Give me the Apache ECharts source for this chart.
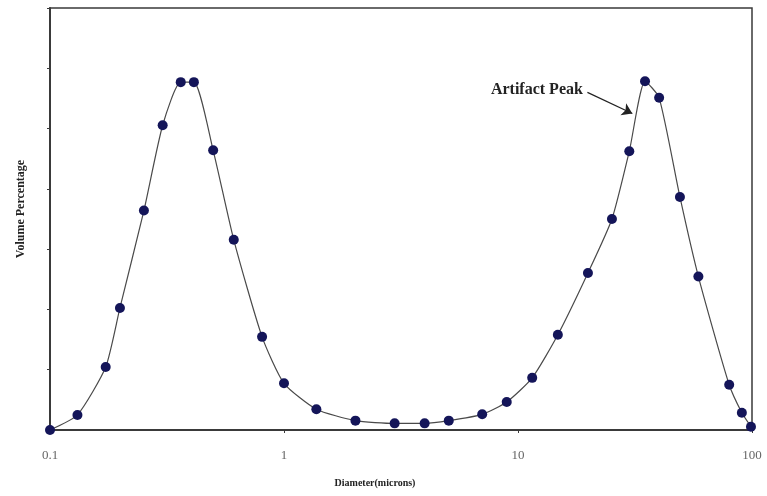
<!DOCTYPE html>
<html>
<head>
<meta charset="utf-8">
<title>Volume Percentage vs Diameter</title>
<script src="https://cdn.jsdelivr.net/npm/echarts@6/dist/echarts.min.js"></script>
<style>
  html, body { margin: 0; padding: 0; background: #fff; }
  #chart { width: 767px; height: 496px; }
</style>
</head>
<body>
<div id="chart"></div>
<script>
// Particle diameter (microns) for each measurement
var diameters = [0.1, 0.131, 0.173, 0.199, 0.252, 0.303, 0.362, 0.412, 0.498, 0.61, 0.806,
  1.0, 1.375, 2.02, 2.97, 3.99, 5.06, 7.03, 8.95, 11.5, 14.8, 19.9, 25.2, 29.9, 34.9,
  40.1, 49.2, 59.0, 79.9, 90.5, 99.0];
// Volume percentage at each diameter
var volumes = [0, 0.5, 2.09, 4.05, 7.28, 10.11, 11.54, 11.54, 9.28, 6.31, 3.09,
  1.55, 0.69, 0.31, 0.22, 0.22, 0.31, 0.52, 0.93, 1.73, 3.16, 5.21, 7.0, 9.25, 11.57,
  11.02, 7.73, 5.09, 1.5, 0.57, 0.11];
// Axis tick values
var xTicks = [0.1, 1, 10, 100];
var yTicks = [0, 2, 4, 6, 8, 10, 12, 14];
// Annotation pointing at the second peak: [start, end] in data units
var peakNote = 'Artifact Peak';
var peakArrow = [[19.8, 11.2], [30.8, 10.5]];

var points = diameters.map(function (d, i) { return [d, volumes[i]]; });
var serif = '"Liberation Serif", "DejaVu Serif", serif';

var chart = echarts.init(document.getElementById('chart'));
chart.setOption({
  animation: false,
  backgroundColor: '#ffffff',
  grid: {
    left: 50, right: 15, top: 8, bottom: 66,
    outerBoundsMode: 'none',
    containLabel: false,
    show: true, borderColor: '#3a3a3a', borderWidth: 1.5, backgroundColor: 'transparent'
  },
  xAxis: {
    type: 'log',
    logBase: 10,
    min: xTicks[0],
    max: xTicks[xTicks.length - 1],
    name: 'Diameter(microns)',
    nameLocation: 'middle',
    nameGap: 48,
    nameTextStyle: { fontFamily: serif, fontWeight: 'bold', fontSize: 10, color: '#222', padding: [0, 52, 0, 0] },
    axisLine: { show: true, lineStyle: { color: '#3a3a3a', width: 2 } },
    axisTick: { show: true, inside: false, length: 3, lineStyle: { color: '#3a3a3a' } },
    minorTick: { show: false },
    splitLine: { show: false },
    axisLabel: {
      margin: 19,
      fontFamily: serif, fontSize: 13, color: '#666',
      formatter: function (v) { return String(+v.toPrecision(3)); }
    }
  },
  yAxis: {
    type: 'value',
    min: yTicks[0],
    max: yTicks[yTicks.length - 1],
    interval: yTicks[1] - yTicks[0],
    name: 'Volume Percentage',
    nameLocation: 'middle',
    nameGap: 23,
    nameTextStyle: { fontFamily: serif, fontWeight: 'bold', fontSize: 12, color: '#222', padding: [0, 0, 0, 20] },
    axisLine: { show: true, lineStyle: { color: '#3a3a3a', width: 2 } },
    axisTick: { show: true, inside: false, length: 3, lineStyle: { color: '#3a3a3a' } },
    axisLabel: { show: false },
    splitLine: { show: false }
  },
  series: [{
    type: 'line',
    data: points,
    smooth: 0.2,
    symbol: 'circle',
    symbolSize: 10,
    itemStyle: { color: '#141559' },
    lineStyle: { color: '#4a4a4a', width: 1.2 },
    z: 3,
    markLine: {
      silent: true,
      symbol: ['none', 'arrow'],
      symbolSize: 10,
      lineStyle: { color: '#222', width: 1.2, type: 'solid' },
      label: {
        show: true,
        position: 'start',
        formatter: peakNote,
        fontFamily: serif, fontWeight: 'bold', fontSize: 16, color: '#222',
        distance: 5
      },
      data: [[{ coord: peakArrow[0] }, { coord: peakArrow[1] }]]
    }
  }]
});
</script>
</body>
</html>
